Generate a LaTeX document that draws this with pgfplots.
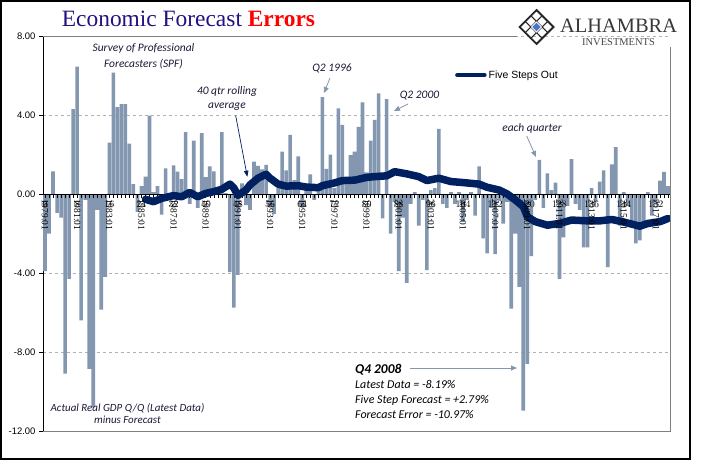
\documentclass[border=0pt]{standalone}
\usepackage{fontspec}
\setmainfont{Liberation Serif}
\newfontfamily\arialf{Liberation Sans}
\newfontfamily\carlito{Carlito}
\newfontfamily\timesf{Liberation Serif}
\usepackage{pgfplots}
\pgfplotsset{compat=1.18}
\usetikzlibrary{arrows.meta}
\definecolor{barcol}{RGB}{132,151,176}
\definecolor{navy}{RGB}{0,32,96}
\definecolor{titleblue}{RGB}{36,16,128}
\definecolor{anntext}{RGB}{25,25,55}
\definecolor{arrowcol}{RGB}{132,151,176}
\definecolor{framegray}{RGB}{128,128,128}
\definecolor{logoblue}{RGB}{70,120,200}
\pgfplotsset{
  common/.style={
    at={(43bp,-431bp)}, anchor=south west,
    scale only axis, width=627bp, height=395bp,
    xmin=-0.5, xmax=155.5, ymin=-12, ymax=8,
  },
  xaxisbase/.style={
    axis x line=middle, axis y line=none,
    hide obscured x ticks=false,
    axis line style={-, black, line width=0.9bp},
    xtick={0,8,...,152},
    minor xtick={0,...,155},
    xtick align=outside,
    major tick length=4bp, minor tick length=3.5bp,
    tick style={black, line width=0.6bp},
  },
}
\pgfplotstableread{
i v
0 -3.9
1 -2.0
2 1.15
3 -0.95
4 -1.2
5 -9.1
6 -4.3
7 4.3
8 6.45
9 -6.4
10 -0.3
11 -8.85
12 -10.8
13 -0.8
14 -5.85
15 -4.2
16 2.6
17 6.15
18 4.4
19 4.55
20 4.55
21 2.55
22 0.5
23 -0.9
24 0.4
25 0.88
26 3.97
27 0.1
28 0.4
29 -1.05
30 1.3
31 -0.3
32 1.45
33 1.13
34 0.75
35 3.13
36 -0.5
37 2.7
38 -0.7
39 3.08
40 0.85
41 1.4
42 1.15
43 0.1
44 3.13
45 0.05
46 -3.95
47 -5.75
48 -4.1
49 0.54
50 -0.56
51 -0.8
52 1.64
53 1.42
54 1.25
55 1.47
56 -0.6
57 -1.0
58 0.3
59 2.15
60 1.2
61 3.0
62 0.7
63 1.9
64 -0.65
65 0.3
66 1.0
67 -0.3
68 0.2
69 4.9
70 1.27
71 2.0
72 0.3
73 4.34
74 3.5
75 0.5
76 1.97
77 2.14
78 3.4
79 4.64
80 1.1
81 2.7
82 3.75
83 5.1
84 -1.23
85 4.8
86 -2.0
87 -0.4
88 -3.9
89 -1.2
90 -4.5
91 -0.5
92 0.1
93 -1.6
94 -0.3
95 -3.85
96 0.2
97 0.3
98 3.3
99 -0.5
100 -0.7
101 0.1
102 -0.5
103 0.1
104 -1.4
105 -0.3
106 0.1
107 -1.1
108 1.4
109 -2.25
110 -3.0
111 -0.7
112 -3.05
113 -0.3
114 -1.5
115 -0.4
116 -5.8
117 -2.0
118 -4.7
119 -10.97
120 -8.6
121 -3.15
122 -0.3
123 1.73
124 -0.7
125 1.05
126 0.2
127 0.58
128 -4.3
129 -2.2
130 -0.6
131 1.76
132 -0.5
133 -0.8
134 -2.7
135 -2.7
136 0.3
137 -0.4
138 0.63
139 1.2
140 -3.7
141 1.5
142 2.37
143 -1.6
144 0.1
145 -0.6
146 -1.6
147 -2.5
148 -2.35
149 -1.5
150 0.1
151 -1.1
152 -0.4
153 0.68
154 1.12
155 0.4
}\errors
\pgfplotstableread{
i v
25 -0.27
27 -0.39
29 -0.22
32 -0.08
34 -0.14
36 0.08
38 -0.14
40 0.03
42 0.12
44 0.24
46 0.5
47 0.3
48 -0.07
50 0.2
51 0.46
53 0.8
55 1.0
56 0.8
58 0.5
60 0.4
63 0.42
65 0.35
68 0.32
69 0.42
72 0.56
74 0.68
77 0.7
80 0.84
82 0.88
85 0.92
87 1.13
90 1.02
93 0.88
95 0.68
98 0.8
101 0.63
104 0.58
106 0.54
108 0.5
110 0.34
113 0.2
115 0.0
117 -0.3
119 -0.64
120 -1.15
122 -1.4
125 -1.58
128 -1.49
131 -1.32
135 -1.36
138 -1.36
141 -1.29
144 -1.42
148 -1.63
150 -1.49
153 -1.4
155 -1.24
}\rolling
\begin{document}
\begin{tikzpicture}
\path (0,0) rectangle (705bp,-461bp);
\fill[white] (0,0) rectangle (705bp,-461bp);
% A: bars, grid and y axis
\begin{axis}[
  common,
  axis x line=none, axis y line=left,
  axis line style={-, black, line width=0.9bp},
  ytick={-12,-8,-4,0,4,8}, ytick align=outside,
  major tick length=4bp, tick style={black, line width=0.6bp},
  yticklabel style={font=\arialf\fontsize{9.5}{11}\selectfont, /pgf/number format/fixed, /pgf/number format/fixed zerofill, /pgf/number format/precision=2, /pgf/number format/assume math mode=true},
  ymajorgrids, grid style={dashed, black!30, line width=0.5bp},
]
\addplot[ybar, bar width=0.9, fill=barcol, draw=none] table[x=i, y=v] {\errors};
\end{axis}
% B: zero line with quarterly ticks
\begin{axis}[common, xaxisbase, xticklabel={}]
\end{axis}
% C: rolling average line and legend
\begin{axis}[
  common, hide axis,
  legend style={at={(0.657,0.901)}, anchor=west, draw=none, fill=none, inner sep=0pt, font=\arialf\fontsize{10.5}{12}\selectfont},
  legend image code/.code={\draw[line width=4.5bp, navy, line cap=round] (0bp,0bp) -- (27bp,0bp);},
]
\addplot[navy, line width=7.5bp, line join=round, line cap=round] table[x=i, y=v] {\rolling};
\addlegendentry{Five Steps Out}
\end{axis}
% D: date labels on top
\begin{axis}[common, xaxisbase,
  x axis line style={draw=none}, tick style={draw=none},
  xticklabels={1979:01,1981:01,1983:01,1985:01,1987:01,1989:01,1991:01,1993:01,1995:01,1997:01,1999:01,2001:01,2003:01,2005:01,2007:01,2009:01,2011:01,2013:01,2015:01,2017:01},
  xticklabel style={rotate=-90, anchor=west, font=\timesf\fontsize{9.5}{10}\selectfont, inner sep=1bp},
]
\end{axis}
% frame
\draw[framegray, line width=0.8bp] (43bp,-36bp) -- (517bp,-36bp);
\draw[framegray, line width=0.8bp] (670bp,-47bp) -- (670bp,-431bp) -- (43bp,-431bp);
\draw[black, line width=1.5bp] (0.75bp,-0.75bp) rectangle (690bp,-459bp);
% title
\node[anchor=base west, inner sep=0pt, font=\timesf\fontsize{23.5}{27}\selectfont] at (61.7bp,-26.7bp) {\textcolor{titleblue}{Economic Forecast} \textcolor{red}{\bfseries Errors}};
% logo
\begin{scope}[shift={(536.5bp,-27bp)}, rotate=45]
  \draw[line width=1.8bp, black!85] (-12bp,-12bp) rectangle (12bp,12bp);
  \draw[line width=1.1bp, black!85] (-12bp,-4bp) -- (12bp,-4bp) (-12bp,4bp) -- (12bp,4bp) (-4bp,-12bp) -- (-4bp,12bp) (4bp,-12bp) -- (4bp,12bp);
  \fill[white] (-4bp,-4bp) rectangle (4bp,4bp);
  \fill[logoblue] (-3bp,-3bp) rectangle (3bp,3bp);
\end{scope}
\node[anchor=base west, inner sep=0pt, text=black!78, font=\timesf\fontsize{20.5}{22}\selectfont] at (560bp,-32.5bp) {ALHAMBRA};
\node[anchor=base west, inner sep=0pt, text=black!72, font=\timesf\fontsize{10.5}{11}\selectfont] at (582bp,-45bp) {INVESTMENTS};
% annotations
\tikzset{ann/.style={inner sep=0pt, text=anntext, font=\carlito\itshape\fontsize{11.5}{13}\selectfont}}
\node[ann, anchor=base] at (143.5bp,-51.5bp) {Survey of Professional};
\node[ann, anchor=base] at (143.5bp,-67bp) {Forecasters (SPF)};
\node[ann, anchor=base] at (227bp,-94.5bp) {40 qtr rolling};
\node[ann, anchor=base] at (227bp,-108bp) {average};
\draw[navy, line width=0.7bp, -{Triangle[length=6bp,width=4.5bp]}] (235.7bp,-115.7bp) -- (247.3bp,-176.7bp);
\node[ann, anchor=base] at (332bp,-71bp) {Q2 1996};
\draw[arrowcol, line width=0.8bp, -{Triangle[length=6bp,width=5bp]}] (330bp,-78bp) -- (324bp,-93bp);
\node[ann, anchor=base] at (419.5bp,-98.3bp) {Q2 2000};
\draw[arrowcol, line width=0.8bp, -{Triangle[length=6bp,width=5bp]}] (408bp,-104bp) -- (394bp,-111bp);
\node[ann, anchor=base] at (532bp,-131bp) {each quarter};
\draw[arrowcol, line width=0.8bp, -{Triangle[length=6bp,width=5bp]}] (526.7bp,-136bp) -- (536bp,-157bp);
\node[ann, anchor=base, font=\carlito\itshape\fontsize{11}{13}\selectfont] at (127.5bp,-411.5bp) {Actual Real GDP Q/Q (Latest Data)};
\node[ann, anchor=base, font=\carlito\itshape\fontsize{11}{13}\selectfont] at (127.5bp,-423.5bp) {minus Forecast};
\node[ann, anchor=base west, text=black, font=\carlito\bfseries\itshape\fontsize{13.5}{15}\selectfont] at (355bp,-373bp) {Q4 2008};
\draw[arrowcol, line width=0.8bp, -{Triangle[length=6bp,width=5bp]}] (410bp,-368bp) -- (517bp,-368bp);
\tikzset{ann2/.style={inner sep=0pt, text=black, font=\carlito\itshape\fontsize{12}{14}\selectfont, anchor=base west}}
\node[ann2] at (355bp,-388bp) {Latest Data = -8.19\%};
\node[ann2] at (355bp,-403bp) {Five Step Forecast = +2.79\%};
\node[ann2] at (355bp,-418bp) {Forecast Error = -10.97\%};
\end{tikzpicture}
\end{document}
